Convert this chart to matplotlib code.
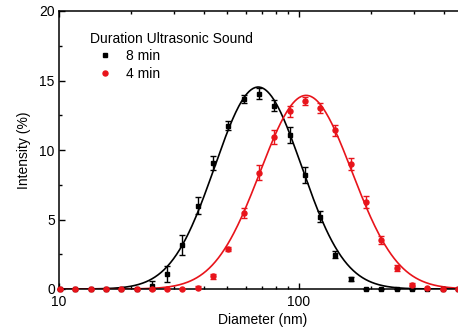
import numpy as np
import matplotlib
matplotlib.use("Agg")
import matplotlib.pyplot as plt
from matplotlib.ticker import MultipleLocator, LogLocator, NullFormatter

plt.rcParams['font.family'] = ['Liberation Sans', 'DejaVu Sans']

# DLS size bins (nm)
diameter = [10.1, 11.7, 13.54, 15.69, 18.17, 21.04, 24.36, 28.21, 32.67, 37.84,
            43.82, 50.75, 58.77, 68.06, 78.82, 91.28, 105.7, 122.4, 141.8, 164.2,
            190.1, 220.2, 255.0, 295.3, 342.0, 396.1, 458.7]

# 8 min
int_8 = [0, 0, 0, 0, 0, 0, 0.25, 1.1, 3.2, 6.0,
         9.06, 11.75, 13.67, 14.05, 13.19, 11.1, 8.22, 5.2, 2.47, 0.72,
         0, 0, 0, 0, 0, 0, 0]
err_8 = [0, 0, 0, 0, 0, 0, 0.3, 0.58, 0.72, 0.64,
         0.5, 0.32, 0.32, 0.4, 0.4, 0.58, 0.58, 0.4, 0.24, 0.15,
         0, 0, 0, 0, 0, 0, 0]

# 4 min
int_4 = [0, 0, 0, 0, 0, 0, 0, 0, 0, 0.08,
         0.9, 2.88, 5.47, 8.35, 10.93, 12.78, 13.5, 13.02, 11.41, 9.01,
         6.23, 3.55, 1.51, 0.3, 0.05, 0, 0]
err_4 = [0, 0, 0, 0, 0, 0, 0, 0, 0, 0.1,
         0.2, 0.15, 0.33, 0.54, 0.48, 0.4, 0.28, 0.33, 0.4, 0.42,
         0.43, 0.28, 0.24, 0.1, 0.05, 0, 0]

# log-normal fit parameters (amplitude, centre nm, sigma in log10)
fit_8 = (14.53, 67.6, 0.181)
fit_4 = (13.93, 107.0, 0.191)

red = '#e8141b'

fig = plt.figure(figsize=(4.58, 3.31), dpi=100)
ax = fig.add_axes([59 / 458, 42 / 331, 407.8 / 458, 278 / 331])

d = np.logspace(1, np.log10(500), 400)
for (a, c, s), col in [(fit_8, 'black'), (fit_4, red)]:
    ax.plot(d, a * np.exp(-(np.log10(d / c)) ** 2 / (2 * s ** 2)), color=col, lw=1.2)

ax.errorbar(diameter, int_8, yerr=err_8, fmt='s', color='black', ms=3.2,
            capsize=2.5, elinewidth=1.0, capthick=1.0, label='8 min', clip_on=False, zorder=3)
ax.errorbar(diameter, int_4, yerr=err_4, fmt='o', color=red, ms=3.6,
            capsize=2.5, elinewidth=1.0, capthick=1.0, label='4 min', clip_on=False, zorder=4)

ax.set_xscale('log')
ax.set_xlim(10, 500)
ax.set_ylim(0, 20)
ax.xaxis.set_minor_locator(LogLocator(base=10, subs=np.arange(2, 10)))
ax.xaxis.set_minor_formatter(NullFormatter())
ax.set_xticks([10, 100])
ax.set_xticklabels(['10', '100'])
ax.yaxis.set_major_locator(MultipleLocator(5))
ax.yaxis.set_minor_locator(MultipleLocator(2.5))

ax.tick_params(which='both', direction='in', top=True, right=True, labelsize=10, width=1)
ax.tick_params(which='major', length=4.5)
ax.tick_params(which='minor', length=2.5)
ax.tick_params(axis='x', pad=4.5)
ax.tick_params(axis='y', pad=3)
for sp in ax.spines.values():
    sp.set_linewidth(1.1)

ax.set_xlabel('Diameter (nm)', fontsize=10, labelpad=3)
ax.set_ylabel('Intensity (%)', fontsize=10, labelpad=6)

h, l = ax.get_legend_handles_labels()
h = [hh[0] for hh in h]
leg = ax.legend(h, l, title='Duration Ultrasonic Sound', loc='upper left',
                bbox_to_anchor=(0.077, 0.925), frameon=False, fontsize=10,
                title_fontsize=10, handletextpad=0.45, handlelength=2.1,
                labelspacing=0.25, borderaxespad=0, borderpad=0)
leg._legend_box.align = 'left'

fig.savefig('out.png', dpi=100)
